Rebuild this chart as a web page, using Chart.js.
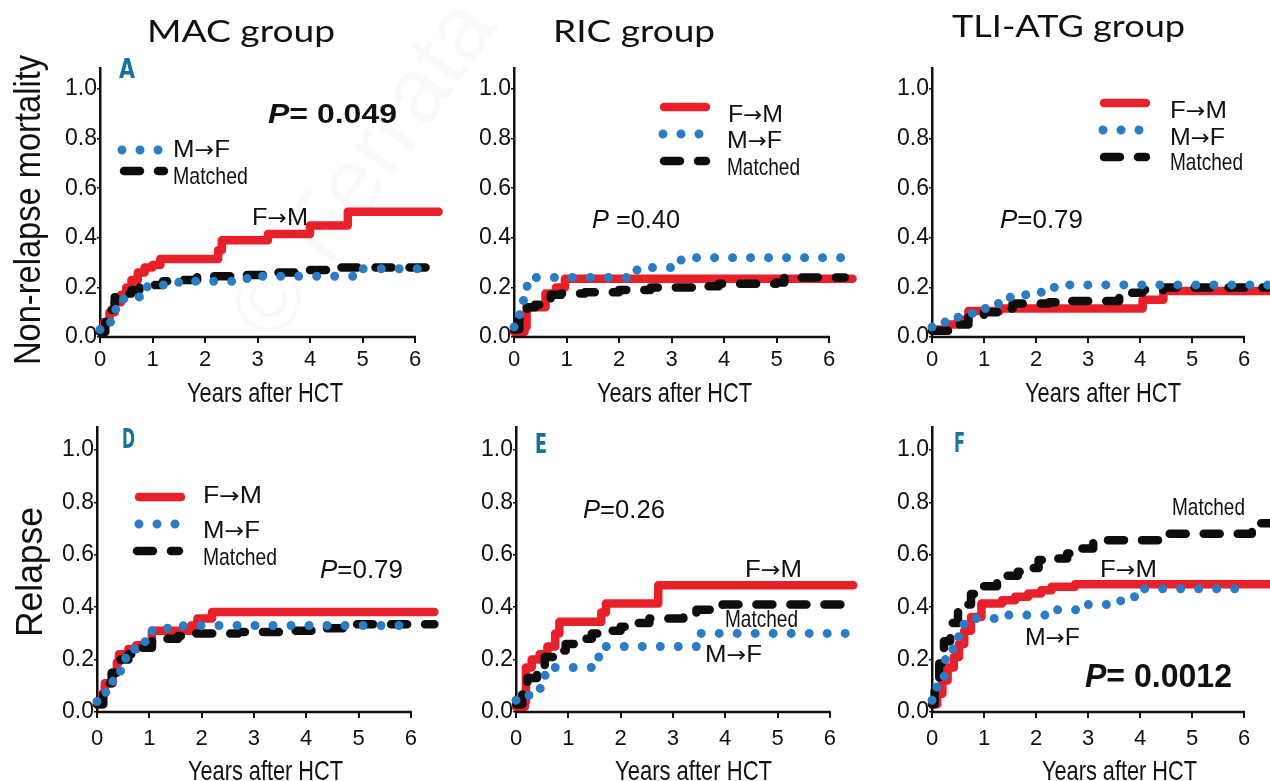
<!DOCTYPE html>
<html lang="en">
<head>
  <meta charset="UTF-8">
  <title>Cumulative incidence by donor-recipient sex</title>
  <script src="https://cdn.jsdelivr.net/npm/chart.js"></script>
  <style>
    body { margin: 0; background: #fff; }
    #wrap { position: relative; width: 1270px; height: 781px; overflow: hidden; }
    #wrap canvas { position: absolute; left: 0; top: 0; }
  </style>
</head>
<body>
<div id="wrap">
  <canvas id="c0" width="1270" height="781"></canvas>
  <canvas id="c1" width="1270" height="781"></canvas>
  <canvas id="c2" width="1270" height="781"></canvas>
  <canvas id="c3" width="1270" height="781"></canvas>
  <canvas id="c4" width="1270" height="781"></canvas>
  <canvas id="c5" width="1270" height="781"></canvas>
</div>

<script>
  // tick values
  const xTicks = [0, 1, 2, 3, 4, 5, 6];
  const yTicks = [0, 0.2, 0.4, 0.6, 0.8, 1.0];

  // [years, cumulative incidence]

  // A: MAC, non-relapse mortality
  const macNrmFM = [[0,0.03],[0.08,0.06],[0.18,0.1],[0.28,0.14],[0.4,0.17],[0.5,0.2],[0.6,0.23],[0.72,0.26],[0.85,0.28],[1.0,0.29],[1.15,0.315],[2.25,0.35],[2.32,0.39],[3.2,0.415],[4.0,0.45],[4.72,0.505],[6.45,0.505]];
  const macNrmMF = [[0,0.03],[0.12,0.06],[0.22,0.09],[0.3,0.13],[0.45,0.16],[0.75,0.17],[0.9,0.21],[1.5,0.225],[2.8,0.24],[3.0,0.245],[4.85,0.25],[5.0,0.275],[6.1,0.275]];
  const macNrmMatched = [[0,0.02],[0.1,0.06],[0.2,0.11],[0.28,0.16],[0.35,0.175],[0.6,0.19],[0.75,0.2],[0.95,0.21],[1.2,0.225],[1.4,0.23],[1.85,0.245],[2.5,0.25],[3.2,0.26],[3.85,0.27],[4.6,0.28],[6.45,0.28]];

  // B: RIC, non-relapse mortality
  const ricNrmFM = [[0,0.02],[0.2,0.04],[0.24,0.12],[0.6,0.175],[0.8,0.2],[0.97,0.235],[6.45,0.235]];
  const ricNrmMF = [[0,0.04],[0.08,0.09],[0.18,0.15],[0.25,0.21],[0.42,0.24],[2.3,0.27],[2.6,0.28],[3.15,0.31],[3.4,0.32],[6.25,0.32]];
  const ricNrmMatched = [[0,0.03],[0.1,0.08],[0.25,0.12],[0.4,0.13],[0.55,0.15],[0.7,0.17],[0.9,0.175],[1.35,0.18],[2.0,0.19],[2.6,0.2],[3.65,0.205],[3.9,0.215],[5.0,0.22],[5.15,0.24],[6.3,0.24]];

  // C: TLI-ATG, non-relapse mortality
  const tliNrmFM = [[0,0.03],[0.3,0.05],[0.5,0.07],[0.7,0.105],[1.3,0.115],[4.05,0.15],[4.45,0.185],[6.5,0.185]];
  const tliNrmMF = [[0,0.04],[0.25,0.06],[0.5,0.08],[0.75,0.095],[1.0,0.115],[1.25,0.135],[1.45,0.16],[1.8,0.17],[2.1,0.18],[2.35,0.2],[2.6,0.21],[6.5,0.21]];
  const tliNrmMatched = [[0,0.025],[0.4,0.05],[0.7,0.085],[1.0,0.1],[1.35,0.115],[1.55,0.135],[2.25,0.14],[2.5,0.145],[3.6,0.17],[3.85,0.178],[4.05,0.19],[4.45,0.2],[6.5,0.2]];

  // D: MAC, relapse
  const macRelFM = [[0,0.03],[0.1,0.07],[0.15,0.11],[0.3,0.15],[0.38,0.19],[0.42,0.22],[0.6,0.24],[0.75,0.255],[1.05,0.31],[1.8,0.33],[1.92,0.357],[2.2,0.382],[6.45,0.382]];
  const macRelMF = [[0,0.04],[0.15,0.075],[0.3,0.117],[0.45,0.16],[0.55,0.21],[0.7,0.24],[0.92,0.27],[1.05,0.31],[1.35,0.32],[1.65,0.33],[6.1,0.33]];
  const macRelMatched = [[0,0.03],[0.12,0.07],[0.2,0.11],[0.28,0.15],[0.45,0.2],[0.6,0.22],[0.85,0.245],[1.05,0.27],[1.25,0.28],[1.55,0.29],[1.85,0.3],[2.7,0.305],[3.5,0.31],[4.1,0.32],[4.7,0.335],[6.45,0.335]];

  // E: RIC, relapse
  const ricRelFM = [[0,0.02],[0.17,0.04],[0.19,0.17],[0.3,0.2],[0.45,0.22],[0.6,0.25],[0.75,0.3],[0.83,0.344],[1.63,0.38],[1.72,0.414],[2.72,0.484],[6.45,0.484]];
  const ricRelMF = [[0,0.045],[0.2,0.064],[0.45,0.09],[0.55,0.14],[0.72,0.17],[1.55,0.21],[1.67,0.25],[3.5,0.3],[6.3,0.3]];
  const ricRelMatched = [[0,0.03],[0.12,0.07],[0.22,0.13],[0.4,0.17],[0.55,0.21],[0.75,0.235],[0.95,0.26],[1.15,0.28],[1.45,0.3],[1.7,0.31],[2.0,0.325],[2.1,0.34],[2.55,0.357],[3.2,0.372],[3.45,0.39],[3.95,0.41],[6.45,0.41]];

  // F: TLI-ATG, relapse
  const tliRelFM = [[0,0.03],[0.1,0.07],[0.2,0.12],[0.3,0.17],[0.42,0.21],[0.52,0.26],[0.62,0.31],[0.75,0.363],[0.95,0.414],[1.35,0.427],[1.6,0.44],[1.85,0.452],[2.1,0.465],[2.3,0.478],[2.75,0.488],[6.5,0.488]];
  const tliRelMF = [[0,0.045],[0.08,0.095],[0.2,0.136],[0.25,0.2],[0.38,0.24],[0.48,0.287],[0.58,0.335],[0.8,0.357],[1.4,0.37],[2.35,0.39],[2.9,0.41],[3.55,0.424],[3.85,0.44],[4.0,0.47],[6.1,0.47]];
  const tliRelMatched = [[0,0.03],[0.05,0.1],[0.14,0.185],[0.23,0.27],[0.35,0.34],[0.5,0.41],[0.75,0.45],[1.0,0.48],[1.25,0.5],[1.35,0.52],[1.65,0.535],[1.85,0.55],[2.05,0.58],[2.35,0.586],[2.6,0.605],[2.85,0.624],[3.1,0.656],[4.55,0.68],[6.15,0.72],[6.5,0.72]];

  // line styles
  const styles = {
    fm:      { borderColor: '#e8202a', borderWidth: 8.5, borderDash: [], order: 3 },
    matched: { borderColor: '#0d0d0d', borderWidth: 8.5, borderDash: [16, 18], order: 2 },
    mf:      { borderColor: '#2a7cc4', borderWidth: 9, borderDash: [0, 18], order: 1 }
  };

  // check whether the narrow font is there
  function hasFont(name) {
    const c = document.createElement('canvas').getContext('2d');
    c.font = '30px monospace';
    const a = c.measureText('Matched 1.0').width;
    c.font = '30px "' + name + '", monospace';
    return c.measureText('Matched 1.0').width !== a;
  }
  const narrow = hasFont('Liberation Sans Narrow');
  const tickFamily = narrow ? '"Liberation Sans Narrow", "Liberation Sans"' : '"Liberation Sans"';
  const ySize = narrow ? 29 : 23;
  const xSize = narrow ? 27 : 22;

  const LS = '"Liberation Sans", Arial, sans-serif';
  const DV = '"DejaVu Sans", sans-serif';
  const titleFont = '30px Lato, "Open Sans", sans-serif';
  const yTitleFont = '36px ' + LS;
  const xTitleFont = '28px ' + LS;
  const lblFont = '24px ' + LS;
  const arrowFont = '22px ' + DV;
  const pFont = '26px ' + LS;
  const pItal = 'italic 26px ' + LS;
  const letterFont = 'bold 26px "DejaVu Sans Condensed", "DejaVu Sans", sans-serif';
  const teal = '#16729a';

  // "F→M" style labels: letters in Arial-like face, arrow from DejaVu (bigger head)
  function arrowRuns(a, b) {
    return [[a, lblFont], ['→', arrowFont], [b, lblFont]];
  }

  // panel layout: x0 / y0 = pixel of (0,0), xs / ys = pixels per unit
  const panels = [
    { id: 'c0', x0: 100, xs: 52.5, y0: 337, ys: 248, pad: 4,
      series: { fm: macNrmFM, mf: macNrmMF, matched: macNrmMatched },
      legend: [ { s: 'mf', x1: 122, x2: 159, y: 150 }, { s: 'matched', x1: 124, x2: 164, y: 171 } ],
      notes: [
        { runs: [['MAC group', titleFont]], x: 147, y: 42, w: 188 },
        { runs: [['Non-relapse mortality', yTitleFont]], x: 40, y: 365, w: 310, rot: true },
        { runs: [['Years after HCT', xTitleFont]], x: 187, y: 402, w: 156 },
        { runs: [['A', letterFont]], x: 119, y: 78, w: 16, color: teal },
        { runs: [['P', 'bold italic 28px ' + LS], ['= 0.049', 'bold 28px ' + LS]], x: 268, y: 123, w: 129 },
        { runs: arrowRuns('M', 'F'), x: 173, y: 157, w: 57 },
        { runs: [['Matched', lblFont]], x: 173, y: 184, w: 75 },
        { runs: arrowRuns('F', 'M'), x: 252, y: 225, w: 56 }
      ] },
    { id: 'c1', x0: 514, xs: 52.5, y0: 337, ys: 248, pad: 4,
      series: { fm: ricNrmFM, mf: ricNrmMF, matched: ricNrmMatched },
      legend: [ { s: 'fm', x1: 664, x2: 706, y: 107 }, { s: 'mf', x1: 663, x2: 700, y: 134 }, { s: 'matched', x1: 664, x2: 706, y: 161 } ],
      notes: [
        { runs: [['RIC group', titleFont]], x: 553, y: 42, w: 162 },
        { runs: [['Years after HCT', xTitleFont]], x: 597, y: 402, w: 155 },
        { runs: arrowRuns('F', 'M'), x: 728, y: 122, w: 55 },
        { runs: arrowRuns('M', 'F'), x: 727, y: 148, w: 55 },
        { runs: [['Matched', lblFont]], x: 727, y: 175, w: 73 },
        { runs: [['P', pItal], [' =0.40', pFont]], x: 592, y: 228, w: 88 }
      ] },
    { id: 'c2', x0: 932, xs: 52.3, y0: 337, ys: 248, pad: 4,
      series: { fm: tliNrmFM, mf: tliNrmMF, matched: tliNrmMatched },
      legend: [ { s: 'fm', x1: 1104, x2: 1146, y: 103 }, { s: 'mf', x1: 1103, x2: 1140, y: 130 }, { s: 'matched', x1: 1104, x2: 1146, y: 157 } ],
      notes: [
        { runs: [['TLI-ATG group', titleFont]], x: 952, y: 37, w: 233 },
        { runs: [['Years after HCT', xTitleFont]], x: 1025, y: 402, w: 156 },
        { runs: arrowRuns('F', 'M'), x: 1170, y: 118, w: 57 },
        { runs: arrowRuns('M', 'F'), x: 1170, y: 145, w: 55 },
        { runs: [['Matched', lblFont]], x: 1170, y: 170, w: 73 },
        { runs: [['P', pItal], ['=0.79', pFont]], x: 1000, y: 228, w: 83 }
      ] },
    { id: 'c3', x0: 97, xs: 52.3, y0: 712, ys: 262, pad: 8,
      series: { fm: macRelFM, mf: macRelMF, matched: macRelMatched },
      legend: [ { s: 'fm', x1: 139, x2: 181, y: 497 }, { s: 'mf', x1: 139, x2: 176, y: 524 }, { s: 'matched', x1: 137, x2: 179, y: 551 } ],
      notes: [
        { runs: [['Relapse', yTitleFont]], x: 42, y: 637, w: 130, rot: true },
        { runs: [['Years after HCT', xTitleFont]], x: 188, y: 780, w: 155 },
        { runs: [['D', letterFont]], x: 122, y: 448, w: 13, color: teal },
        { runs: arrowRuns('F', 'M'), x: 203, y: 503, w: 59 },
        { runs: arrowRuns('M', 'F'), x: 203, y: 538, w: 57 },
        { runs: [['Matched', lblFont]], x: 203, y: 565, w: 74 },
        { runs: [['P', pItal], ['=0.79', pFont]], x: 320, y: 578, w: 83 }
      ] },
    { id: 'c4', x0: 516, xs: 52.3, y0: 712, ys: 262, pad: 8,
      series: { fm: ricRelFM, mf: ricRelMF, matched: ricRelMatched },
      legend: [],
      notes: [
        { runs: [['Years after HCT', xTitleFont]], x: 615, y: 780, w: 157 },
        { runs: [['E', letterFont]], x: 535, y: 453, w: 12, color: teal },
        { runs: [['P', pItal], ['=0.26', pFont]], x: 583, y: 518, w: 82 },
        { runs: arrowRuns('F', 'M'), x: 745, y: 577, w: 57 },
        { runs: [['Matched', lblFont]], x: 725, y: 627, w: 73 },
        { runs: arrowRuns('M', 'F'), x: 705, y: 662, w: 57 }
      ] },
    { id: 'c5', x0: 932, xs: 52.3, y0: 712, ys: 262, pad: 8,
      series: { fm: tliRelFM, mf: tliRelMF, matched: tliRelMatched },
      legend: [],
      notes: [
        { runs: [['Years after HCT', xTitleFont]], x: 1042, y: 780, w: 155 },
        { runs: [['F', letterFont]], x: 954, y: 452, w: 11, color: teal },
        { runs: [['Matched', lblFont]], x: 1172, y: 515, w: 73 },
        { runs: arrowRuns('F', 'M'), x: 1100, y: 577, w: 57 },
        { runs: arrowRuns('M', 'F'), x: 1025, y: 645, w: 55 },
        { runs: [['P', 'bold italic 33px ' + LS], ['= 0.0012', 'bold 33px ' + LS]], x: 1085, y: 687, w: 147 }
      ] }
  ];

  const Y_AXIS_W = 60;
  const X_AXIS_H = 40;
  const X_MAX = 6.5;
  const Y_MAX = 1.085;

  // text squeezed / stretched to the width it has in the figure
  function drawNote(ctx, n) {
    ctx.save();
    ctx.fillStyle = n.color || '#111';
    ctx.textBaseline = 'alphabetic';
    ctx.textAlign = 'left';
    let total = 0;
    n.runs.forEach(r => { ctx.font = r[1]; total += ctx.measureText(r[0]).width; });
    ctx.translate(n.x, n.y);
    if (n.rot) ctx.rotate(-Math.PI / 2);
    ctx.scale(n.w / total, 1);
    let cx = 0;
    n.runs.forEach(r => {
      ctx.font = r[1];
      ctx.fillText(r[0], cx, 0);
      cx += ctx.measureText(r[0]).width;
    });
    ctx.restore();
  }

  function drawSample(ctx, st, x1, x2, y) {
    ctx.save();
    ctx.strokeStyle = st.borderColor;
    ctx.lineWidth = st.borderWidth;
    ctx.lineCap = 'round';
    ctx.setLineDash(st.borderDash);
    ctx.beginPath();
    ctx.moveTo(x1, y);
    ctx.lineTo(x2, y);
    ctx.stroke();
    ctx.restore();
  }

  // faint watermark, as in the source figure
  const watermarkPlugin = {
    id: 'watermark',
    beforeDraw(chart) {
      const ctx = chart.ctx;
      ctx.save();
      ctx.translate(275, 345);
      ctx.rotate(-55 * Math.PI / 180);
      ctx.fillStyle = 'rgba(0,0,0,0.025)';
      ctx.font = '92px ' + LS;
      ctx.fillText('© Ferrata Storti', 0, 0);
      ctx.restore();
    }
  };

  const panelPlugin = {
    id: 'panelExtras',
    afterDraw(chart) {
      const p = chart.options.plugins.panelExtras;
      const ctx = chart.ctx;
      const xs = chart.scales.x, ys = chart.scales.y;
      // x axis line only runs from 0 to 6
      ctx.save();
      ctx.strokeStyle = '#111';
      ctx.lineWidth = 2.5;
      ctx.beginPath();
      ctx.moveTo(xs.getPixelForValue(0) - 1, ys.getPixelForValue(0));
      ctx.lineTo(xs.getPixelForValue(xTicks[xTicks.length - 1]) + 1, ys.getPixelForValue(0));
      ctx.stroke();
      ctx.restore();
      p.legend.forEach(l => drawSample(ctx, styles[l.s], l.x1, l.x2, l.y));
      p.notes.forEach(n => drawNote(ctx, n));
    }
  };

  panels.forEach((p, i) => {
    const datasets = ['mf', 'matched', 'fm'].map(key => ({
      label: key,
      data: p.series[key].map(([x, y]) => ({ x: x, y: y })),
      borderColor: styles[key].borderColor,
      borderWidth: styles[key].borderWidth,
      borderDash: styles[key].borderDash,
      borderCapStyle: 'round',
      borderJoinStyle: 'round',
      order: styles[key].order,
      stepped: 'before',
      pointRadius: 0,
      fill: false,
      clip: 8
    }));

    new Chart(document.getElementById(p.id), {
      type: 'line',
      data: { datasets: datasets },
      plugins: i === 0 ? [watermarkPlugin, panelPlugin] : [panelPlugin],
      options: {
        responsive: false,
        animation: false,
        devicePixelRatio: 1,
        layout: {
          padding: {
            left: p.x0 - Y_AXIS_W,
            right: 1270 - (p.x0 + X_MAX * p.xs),
            top: p.y0 - Y_MAX * p.ys,
            bottom: 781 - p.y0 - X_AXIS_H
          }
        },
        plugins: {
          legend: { display: false },
          tooltip: { enabled: false },
          panelExtras: { legend: p.legend, notes: p.notes }
        },
        scales: {
          x: {
            type: 'linear',
            min: 0,
            max: X_MAX,
            afterBuildTicks: s => { s.ticks = xTicks.map(v => ({ value: v })); },
            afterFit: s => { s.height = X_AXIS_H; },
            border: { display: false },
            grid: { drawOnChartArea: false, tickLength: 6, color: '#111', lineWidth: 2 },
            ticks: {
              color: '#111',
              padding: p.pad,
              maxRotation: 0,
              autoSkip: false,
              font: { family: tickFamily, size: xSize },
              callback: v => String(v)
            }
          },
          y: {
            type: 'linear',
            min: 0,
            max: Y_MAX,
            afterBuildTicks: s => { s.ticks = yTicks.map(v => ({ value: v })); },
            afterFit: s => { s.width = Y_AXIS_W; },
            border: { display: true, color: '#111', width: 2.5 },
            grid: { drawOnChartArea: false, tickLength: 3, color: '#111', lineWidth: 1.5 },
            ticks: {
              color: '#111',
              padding: 0,
              autoSkip: false,
              font: { family: tickFamily, size: ySize },
              callback: v => v.toFixed(1)
            }
          }
        }
      }
    });
  });
</script>
</body>
</html>
